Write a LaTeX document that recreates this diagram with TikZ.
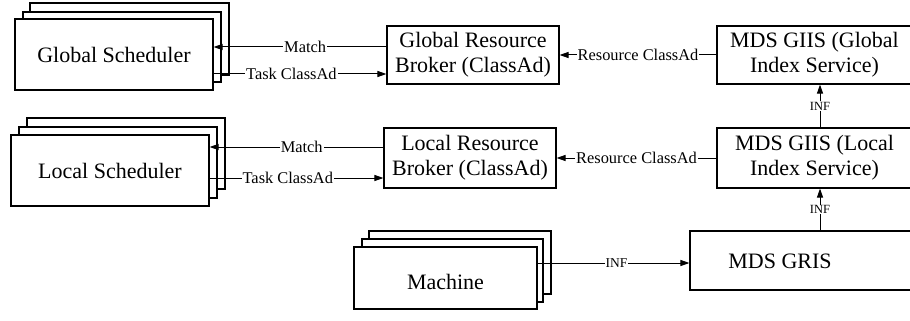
\documentclass[tikz,border=0pt]{standalone}
\usepackage{fontspec}
\setmainfont{Liberation Serif}
\usetikzlibrary{arrows.meta}
\begin{document}
\begin{tikzpicture}[x=1pt,y=-1pt,
  box/.style={draw,line width=1.1pt,fill=white,inner sep=0pt,align=center,
     font=\fontsize{22}{25}\selectfont},
  lbl/.style={fill=white,inner sep=1pt,font=\fontsize{16.4}{18}\selectfont},
  lblsm/.style={fill=white,inner sep=1pt,font=\fontsize{13.5}{15}\selectfont},
  lblv/.style={fill=white,inner sep=0.5pt,font=\fontsize{12.5}{14}\selectfont},
  arr/.style={line width=1pt,-{Triangle[length=9pt,width=6pt]}},
  ln/.style={line width=1pt}]
\clip (0,0) rectangle (910,321);
\fill[white] (0,0) rectangle (910,321);
% Global scheduler stack
\node[box,minimum width=199pt,minimum height=72pt] (gs3) at (129.5,39) {};
\node[box,minimum width=198pt,minimum height=70pt] (gs2) at (122,47) {};
\node[box,minimum width=198pt,minimum height=71pt] (gs) at (114,54.5) {Global Scheduler};
% Local scheduler stack
\node[box,minimum width=198pt,minimum height=71pt] (ls3) at (126,153.5) {};
\node[box,minimum width=198pt,minimum height=71pt] (ls2) at (118,162.5) {};
\node[box,minimum width=198pt,minimum height=71pt] (ls) at (110,170.5) {Local Scheduler};
% Machine stack
\node[box,minimum width=182pt,minimum height=63pt] (m3) at (460,262.5) {};
\node[box,minimum width=181pt,minimum height=63pt] (m2) at (452.5,270.5) {};
\node[box,minimum width=183pt,minimum height=62pt] (m) at (445.5,278) {};
\node[font=\fontsize{22}{25}\selectfont] (mt) at (445.5,282) {Machine};
% Brokers
\node[box,minimum width=172pt,minimum height=58pt] (gb) at (473,55) {Global Resource\\Broker (ClassAd)};
\node[box,minimum width=172pt,minimum height=60pt] (lb) at (470,158) {Local Resource\\Broker (ClassAd)};
% MDS
\node[box,minimum width=195pt,minimum height=58pt] (mg) at (814.5,55) {MDS GIIS (Global\\Index Service)};
\node[box,minimum width=195pt,minimum height=60pt] (ml) at (814.5,158) {MDS GIIS (Local\\Index Service)};
\node[box,minimum width=222pt,minimum height=59pt] (gr) at (801,260.5) {};
\node[font=\fontsize{22}{25}\selectfont] (grt) at (780,261) {MDS GRIS};
% Global connectors
\draw[arr] (gb.west |- 0,47) -- node[lbl,pos=0.47] {Match} (gs.east |- 0,47);
\draw[arr] (gs.east |- 0,74) -- node[lbl,pos=0.45] {Task ClassAd} (gb.west |- 0,74);
\draw[arr] (mg.west) -- node[lbl,pos=0.5] {Resource ClassAd} (gb.east);
% Local connectors
\draw[arr] (lb.west |- 0,147) -- node[lbl,pos=0.47] {Match} (ls.east |- 0,147);
\draw[arr] (ls.east |- 0,178) -- node[lbl,pos=0.45] {Task ClassAd} (lb.west |- 0,178);
\draw[arr] (ml.west) -- node[lbl,pos=0.5] {Resource ClassAd} (lb.east);
% INF
\draw[arr] (m.east |- 0,263) -- node[lblsm,pos=0.52] {INF} (gr.west |- 0,263);
\draw[arr] (ml.north -| 820,0) -- node[lblv,pos=0.5] {INF} (mg.south -| 820,0);
\draw[arr] (gr.north -| 820,0) -- node[lblv,pos=0.5] {INF} (ml.south -| 820,0);
\end{tikzpicture}
\end{document}
